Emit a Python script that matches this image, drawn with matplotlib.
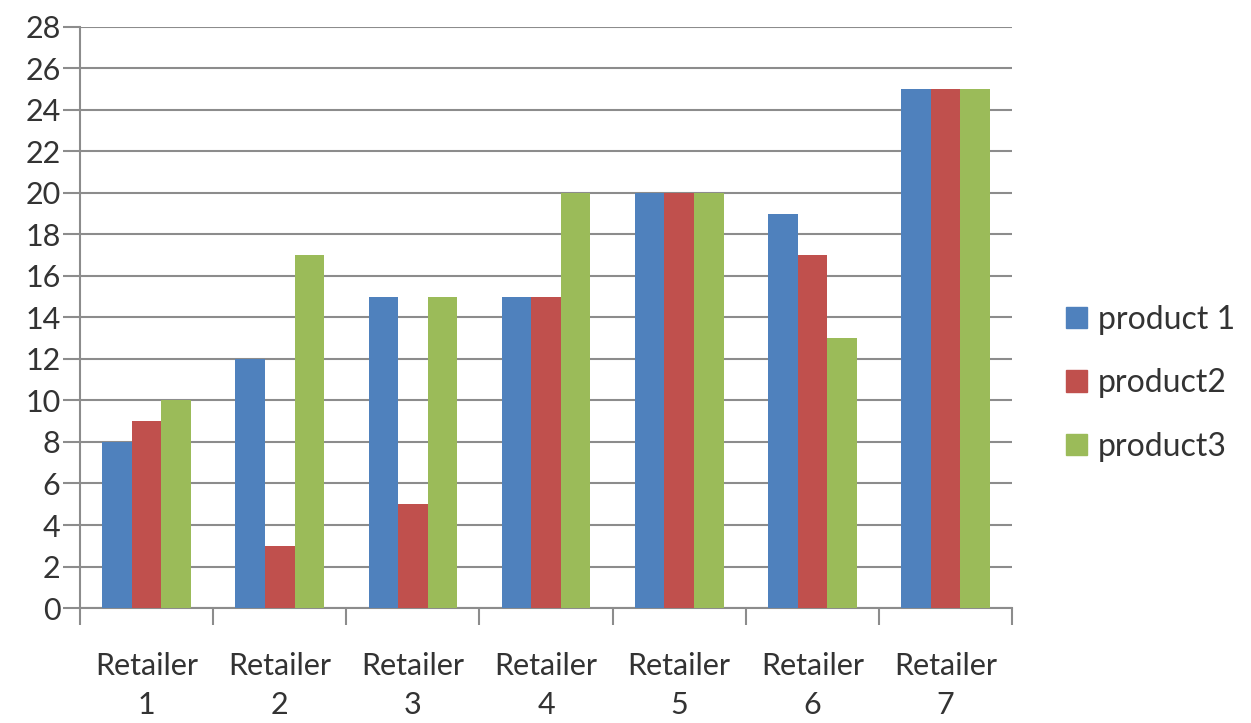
import numpy as np
import matplotlib.pyplot as plt
from matplotlib.patches import Patch

plt.rcParams['font.family'] = ['Lato', 'DejaVu Sans']

retailers = ['Retailer\n1', 'Retailer\n2', 'Retailer\n3', 'Retailer\n4',
             'Retailer\n5', 'Retailer\n6', 'Retailer\n7']
product1 = [8, 12, 15, 15, 20, 19, 25]
product2 = [9, 3, 5, 15, 20, 17, 25]
product3 = [10, 17, 15, 20, 20, 13, 25]
series_names = ['product 1', 'product2', 'product3']
colors = ['#4F81BD', '#C0504D', '#9BBB59']

fig = plt.figure(figsize=(12.51, 7.23), dpi=100)
ax = fig.add_axes([0.064, 0.159, 0.745, 0.804])

x = np.arange(len(retailers))
w = 0.222
for i, vals in enumerate([product1, product2, product3]):
    ax.bar(x + (i - 1) * w, vals, width=w, color=colors[i], zorder=3)

ax.set_xlim(-0.5, len(retailers) - 0.5)
ax.set_ylim(0, 28)
ax.set_yticks(range(0, 29, 2))
ax.grid(axis='y', color='#8c8c8c', linewidth=1.5, zorder=0)

# category labels centered, tick marks at boundaries
ax.set_xticks(x)
ax.set_xticklabels(retailers, fontsize=22, color='#333333', linespacing=1.45)
ax.tick_params(axis='x', length=0, pad=32)
ax.set_xticks(np.arange(-0.5, len(retailers)), minor=True)
ax.tick_params(axis='x', which='minor', length=12, width=1.5, color='#8c8c8c')
ax.tick_params(axis='y', length=12, width=1.5, color='#8c8c8c',
               labelsize=22, labelcolor='#333333', pad=2)

for s in ['top', 'right']:
    ax.spines[s].set_visible(False)
for s in ['left', 'bottom']:
    ax.spines[s].set_color('#8c8c8c')
    ax.spines[s].set_linewidth(1.5)

handles = [Patch(color=c) for c in colors]
fig.legend(handles, series_names, loc='center left', bbox_to_anchor=(0.852, 0.47),
           frameon=False, fontsize=23, handlelength=0.65, handleheight=0.65,
           handletextpad=0.35, labelspacing=1.05, labelcolor='#333333',
           borderaxespad=0, borderpad=0)

fig.savefig('out.png', dpi=100)
